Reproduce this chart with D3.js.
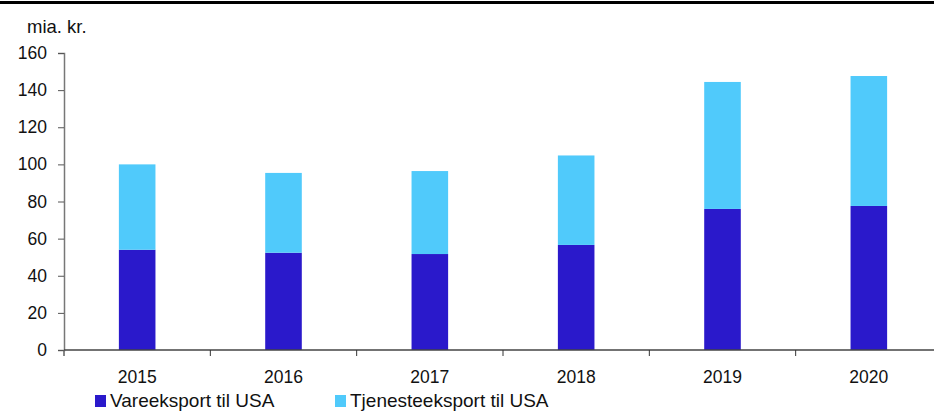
<!DOCTYPE html>
<html><head><meta charset="utf-8">
<script src="https://cdn.jsdelivr.net/npm/d3@7"></script>
<style>body{margin:0;background:#fff}svg{display:block;font-family:"Liberation Sans",Arial,sans-serif}</style>
</head><body><svg id="c" width="934" height="412"></svg>
<script>
const years = ["2015","2016","2017","2018","2019","2020"];
const vareeksport = [54, 52.4, 51.7, 56.6, 76, 77.6];
const tjenesteeksport = [46, 43, 44.7, 48.2, 68.4, 70];
const yTicks = [0,20,40,60,80,100,120,140,160];
const seriesNames = ["Vareeksport til USA","Tjenesteeksport til USA"];
const colors = ["#2a19cb","#50cafb"];

const svg = d3.select("#c");
const x = d3.scaleBand().domain(years).range([64, 942]);
const y = d3.scaleLinear().domain([0,160]).range([350, 53]);

svg.append("rect").attr("x",0).attr("y",1).attr("width",934).attr("height",3).attr("fill","#000");

svg.append("text").attr("x",27).attr("y",33).attr("font-size",18.5).attr("fill","#111").text("mia. kr.");

const table = years.map((yr,i)=>({year:yr, v:vareeksport[i], t:tjenesteeksport[i]}));
const stack = d3.stack().keys(["v","t"])(table);
const bw = x.bandwidth()*0.25;
stack.forEach((layer,li)=>{
  svg.append("g").selectAll("rect").data(layer).join("rect")
    .attr("x", d=>x(d.data.year)+x.bandwidth()/2-bw/2)
    .attr("width", bw)
    .attr("y", d=>y(d[1]))
    .attr("height", d=>y(d[0])-y(d[1]))
    .attr("fill", colors[li]);
});

const ya = svg.append("g").attr("transform","translate(64,0)")
  .call(d3.axisLeft(y).tickValues(yTicks).tickSize(6).tickPadding(11));
ya.select(".domain").attr("stroke","#777").attr("stroke-width",1.5);
ya.selectAll(".tick line").attr("stroke","#555");
ya.selectAll("text").attr("font-size",17.5).attr("fill","#111").attr("font-family","Liberation Sans, Arial, sans-serif");

const xa = svg.append("g").attr("transform","translate(0,350)");
xa.append("line").attr("x1",64).attr("x2",934).attr("y1",0).attr("y2",0).attr("stroke","#444").attr("stroke-width",1.5);
xa.selectAll("line.t").data(years).join("line").attr("class","t")
  .attr("x1",d=>x(d)).attr("x2",d=>x(d)).attr("y1",0).attr("y2",6).attr("stroke","#333");
xa.append("line").attr("x1",64).attr("x2",64).attr("y1",0).attr("y2",6).attr("stroke","#777");
xa.selectAll("text").data(years).join("text")
  .attr("x",d=>x(d)+x.bandwidth()/2).attr("y",33).attr("text-anchor","middle")
  .attr("font-size",17.5).attr("fill","#111").text(d=>d);

const legX = [95, 335];
seriesNames.forEach((n,i)=>{
  svg.append("rect").attr("x",legX[i]).attr("y",395).attr("width",11).attr("height",12).attr("fill",colors[i]);
  svg.append("text").attr("x",legX[i]+15).attr("y",407).attr("font-size",19).attr("fill","#111").text(n);
});
</script></body></html>
